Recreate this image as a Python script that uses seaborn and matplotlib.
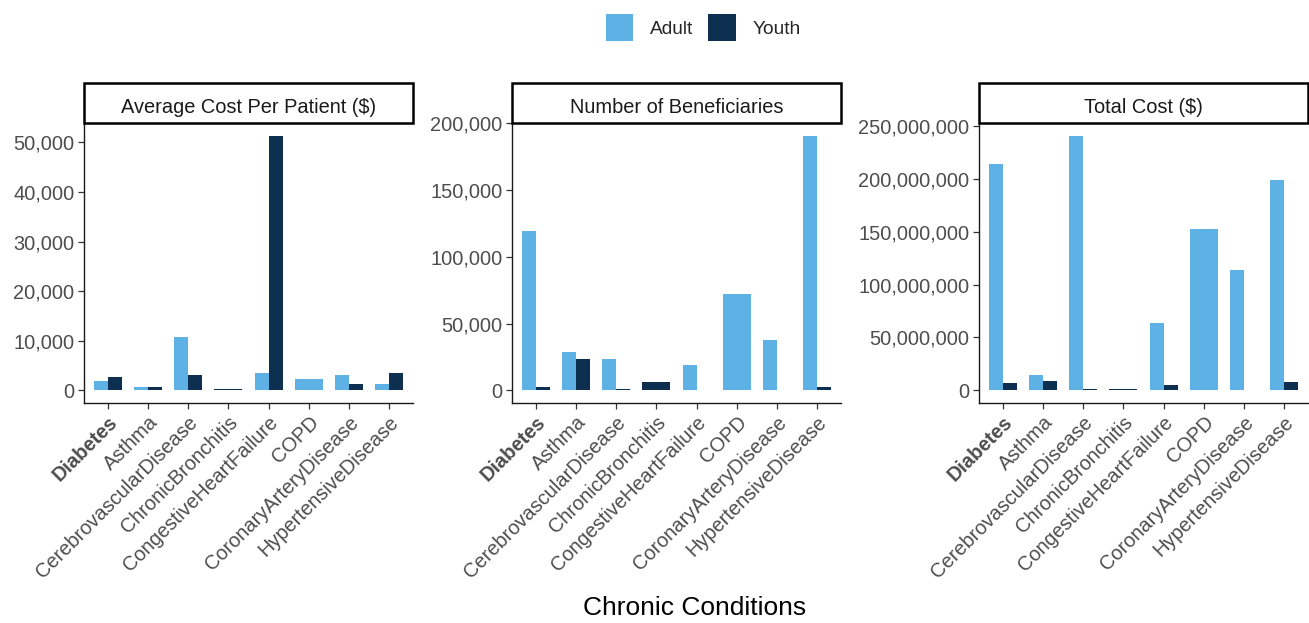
import numpy as np
import pandas as pd
import matplotlib
matplotlib.use("Agg")
import matplotlib.pyplot as plt
from matplotlib.patches import Rectangle, Patch
from matplotlib.ticker import FuncFormatter, MultipleLocator
import seaborn as sns

# ---- data -----------------------------------------------------------------
conditions = ["Diabetes", "Asthma", "CerebrovascularDisease", "ChronicBronchitis",
              "CongestiveHeartFailure", "COPD", "CoronaryArteryDisease",
              "HypertensiveDisease"]
groups = ["Adult", "Youth"]
panels = ["Average Cost Per Patient ($)", "Number of Beneficiaries", "Total Cost ($)"]

avg_cost_adult = [1820, 670, 10780, None, 3500, 2290, 3170, 1210]
avg_cost_youth = [2630, 670, 3170, 340, 51350, None, 1210, 3500]

beneficiaries_adult = [119400, 28500, 23500, None, 19300, 72300, 38000, 190700]
beneficiaries_youth = [2500, 23500, 1000, 6500, 100, None, 5, 2500]

total_cost_adult = [214.5e6, 14.6e6, 241e6, None, 63.7e6, 152.4e6, 114e6, 199e6]
total_cost_youth = [6.7e6, 9.2e6, 0.8e6, 1.3e6, 5.4e6, None, 6000, 7.9e6]

tick_steps = [10000, 50000, 50000000]

colors = {"Adult": "#5DB1E4", "Youth": "#0E3050"}

series = {
    panels[0]: (avg_cost_adult, avg_cost_youth),
    panels[1]: (beneficiaries_adult, beneficiaries_youth),
    panels[2]: (total_cost_adult, total_cost_youth),
}

rows = []
for panel, (adult, youth) in series.items():
    for cond, a, y in zip(conditions, adult, youth):
        if a is not None:
            rows.append((panel, cond, "Adult", a))
        if y is not None:
            rows.append((panel, cond, "Youth", y))
df = pd.DataFrame(rows, columns=["measure", "condition", "group", "value"])

# ---- style ----------------------------------------------------------------
sns.set_style("ticks")
plt.rcParams["font.family"] = ["Liberation Sans", "DejaVu Sans"]

W, H = 1309, 623
fig = plt.figure(figsize=(W / 100, H / 100), dpi=100)

panel_left = [84, 512, 979]
panel_width = 329
plot_top, plot_bottom = 123, 403
strip_h = 40
bar_width = 0.7

tick_color = "#4D4D4D"
fmt = FuncFormatter(lambda v, _: f"{v:,.0f}")

for i, panel in enumerate(panels):
    ax = fig.add_axes([panel_left[i] / W, 1 - plot_bottom / H,
                       panel_width / W, (plot_bottom - plot_top) / H])
    sub = df[df["measure"] == panel]
    counts = sub.groupby("condition")["group"].transform("count")
    paired = sub[counts == 2]
    single = sub[counts == 1]

    # conditions with both groups are dodged; single-group ones fill the slot
    sns.barplot(data=paired, x="condition", y="value", hue="group",
                order=conditions, hue_order=groups, palette=colors,
                width=bar_width, dodge=True, errorbar=None, saturation=1,
                linewidth=0, legend=False, ax=ax)
    sns.barplot(data=single, x="condition", y="value", hue="group",
                order=conditions, hue_order=groups, palette=colors,
                width=bar_width, dodge=False, errorbar=None, saturation=1,
                linewidth=0, legend=False, ax=ax)

    vmax = sub["value"].max()
    ax.set_ylim(-0.05 * vmax, 1.05 * vmax)
    ax.set_xlim(-0.6, len(conditions) - 0.4)
    ax.yaxis.set_major_locator(MultipleLocator(tick_steps[i]))
    ax.yaxis.set_major_formatter(fmt)
    ax.set_xlabel("")
    ax.set_ylabel("")

    for side in ("top", "right"):
        ax.spines[side].set_visible(False)
    for side in ("left", "bottom"):
        ax.spines[side].set_color("#1A1A1A")
        ax.spines[side].set_linewidth(1.0)

    ax.tick_params(axis="both", length=4, width=0.9, color="#333333",
                   labelcolor=tick_color, labelsize=14.4, pad=3)
    ax.set_xticks(range(len(conditions)))
    ax.set_xticklabels(conditions, rotation=45, ha="right",
                       rotation_mode="anchor", va="top")
    ax.get_xticklabels()[0].set_fontweight("bold")

    # facet strip
    sh = strip_h / (plot_bottom - plot_top)
    ax.add_patch(Rectangle((0, 1), 1, sh, transform=ax.transAxes,
                           facecolor="white", edgecolor="black",
                           linewidth=1.8, clip_on=False, zorder=5))
    ax.text(0.5, (plot_bottom - 113) / (plot_bottom - plot_top), panel,
            transform=ax.transAxes, ha="center", va="baseline",
            fontsize=14.4, color="#1A1A1A", zorder=6)

fig.text(694.5 / W, 1 - 608 / H, "Chronic Conditions", ha="center",
         va="center", fontsize=19, color="black")

handles = [Patch(facecolor=colors[g], edgecolor="none", label=g) for g in groups]
fig.legend(handles=handles, loc="center", bbox_to_anchor=(703 / W, 1 - 27.5 / H),
           ncol=2, frameon=False, fontsize=13.8, handlelength=1.45,
           handleheight=1.75, handletextpad=0.85, columnspacing=0.8)

fig.savefig("out.png", dpi=100)
